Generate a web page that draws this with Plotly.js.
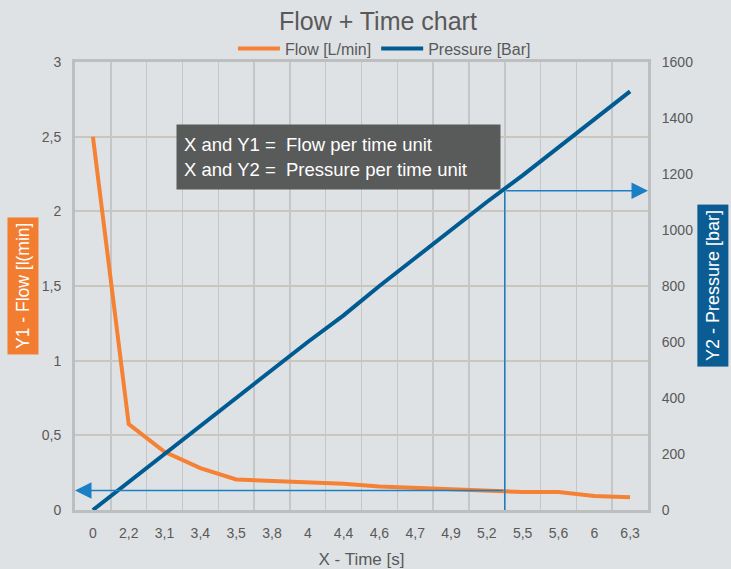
<!DOCTYPE html>
<html>
<head>
<meta charset="utf-8">
<script src="https://cdn.plot.ly/plotly-3.0.1.min.js"></script>
<style>html,body{margin:0;padding:0;background:#dfe2e5;}#chart{width:731px;height:569px;}</style>
</head>
<body>
<div id="chart"></div>
<script>
// ---- data ----
const timeLabels = ["0","2,2","3,1","3,4","3,5","3,8","4","4,4","4,6","4,7","4,9","5,2","5,5","5,6","6","6,3"];
const flowValues = [2.5,0.575,0.39,0.28,0.205,0.195,0.185,0.175,0.157,0.148,0.14,0.13,0.121,0.12,0.093,0.085];
const pressureValues = [0,100,200,300,400,500,600,695,800,900,1000,1100,1195,1295,1395,1495];
const readoutIndex = 11.5;          // between "5,2" and "5,5"
const readoutPressure = 1140;       // bar
const readoutFlow = flowValues[11]; // l/min

const FONT = "Liberation Sans, Arial, sans-serif";
const GREY = "#595959";
const ORANGE = "#f58134";
const BLUE = "#005b92";
const ARROW = "#1b7fc6";

const traces = [
  {x: timeLabels, y: flowValues, type: "scatter", mode: "lines", name: "Flow [L/min]",
   line: {color: ORANGE, width: 4}, yaxis: "y"},
  {x: timeLabels, y: pressureValues, type: "scatter", mode: "lines", name: "Pressure [Bar]",
   line: {color: BLUE, width: 4}, yaxis: "y2"}
];

const layout = {
  width: 731, height: 569,
  margin: {l: 75, r: 83, t: 62, b: 59},
  paper_bgcolor: "#dfe2e5", plot_bgcolor: "#dfe2e5",
  separators: ",.",
  font: {family: FONT, color: GREY, size: 14},
  title: {text: "Flow + Time chart", font: {family: FONT, size: 25, color: GREY},
          x: 0.517, xanchor: "center", y: 0.963, yanchor: "middle"},
  showlegend: true,
  legend: {orientation: "h", x: 0.54, xanchor: "center", y: 1.03, yanchor: "middle", itemwidth: 42,
           font: {family: FONT, size: 16, color: GREY}, bgcolor: "rgba(0,0,0,0)", traceorder: "normal"},
  xaxis: {type: "category", range: [-0.5, 15.5], tickson: "boundaries", ticks: "",
          showgrid: true, gridcolor: "#c5c6c8", gridwidth: 1.5,
          showline: true, linecolor: "#bcbec0", linewidth: 3, mirror: true,
          tickfont: {family: FONT, size: 14, color: GREY}, ticklabelstandoff: 8,
          title: {text: "X - Time [s]", font: {family: FONT, size: 17, color: GREY}, standoff: 14},
          zeroline: false, fixedrange: true},
  yaxis: {range: [0, 3], dtick: 0.5, tick0: 0, showgrid: true, gridcolor: "#c9c7bb", gridwidth: 2,
          showline: true, linecolor: "#bcbec0", linewidth: 3, zeroline: false, ticks: "",
          tickfont: {family: FONT, size: 14, color: GREY}, ticklabelstandoff: 8},
  yaxis2: {range: [0, 1600], dtick: 200, tick0: 0, overlaying: "y", side: "right", showgrid: false,
           showline: true, linecolor: "#bcbec0", linewidth: 3, zeroline: false, ticks: "",
           tickfont: {family: FONT, size: 14, color: GREY}, ticklabelstandoff: 8},
  shapes: [
    {type: "line", xref: "x", yref: "y2", x0: readoutIndex, x1: readoutIndex, y0: readoutPressure, y1: -8,
     line: {color: ARROW, width: 1.5}, layer: "above"}
  ],
  annotations: [
    {xref: "x", yref: "y2", x: 15.5, y: readoutPressure, axref: "x", ayref: "y2", ax: readoutIndex, ay: readoutPressure,
     showarrow: true, arrowhead: 2, arrowsize: 2.2, arrowwidth: 1.5, arrowcolor: ARROW, standoff: 0, text: ""},
    {xref: "x", yref: "y", x: -0.5, y: readoutFlow, axref: "x", ayref: "y", ax: readoutIndex, ay: readoutFlow,
     showarrow: true, arrowhead: 2, arrowsize: 2.2, arrowwidth: 1.5, arrowcolor: ARROW, standoff: 0, text: ""},
    {xref: "paper", yref: "paper", x: 0.46, y: 0.787, xanchor: "center", yanchor: "middle",
     text: "X and Y1 =\u00a0\u00a0Flow per time unit<br>X and Y2 =\u00a0\u00a0Pressure per time unit",
     align: "left", showarrow: false, bgcolor: "#595a5a", borderpad: 7, width: 309, height: 50,
     font: {family: FONT, size: 18.5, color: "#ffffff"}},
    {xref: "paper", yref: "paper", x: -0.0908, y: 0.5, xanchor: "center", yanchor: "middle",
     text: "Y1 - Flow [l(min]", textangle: -90, showarrow: false, bgcolor: "#f27d30",
     borderpad: 5, font: {family: FONT, size: 17.5, color: "#ffffff"}},
    {xref: "paper", yref: "paper", x: 1.1134, y: 0.502, xanchor: "center", yanchor: "middle",
     text: "Y2 - Pressure [bar]", textangle: -90, showarrow: false, bgcolor: "#0a5c93",
     borderpad: 5, font: {family: FONT, size: 18, color: "#ffffff"}}
  ]
};

Plotly.newPlot("chart", traces, layout, {staticPlot: true, displayModeBar: false});
</script>
</body>
</html>
